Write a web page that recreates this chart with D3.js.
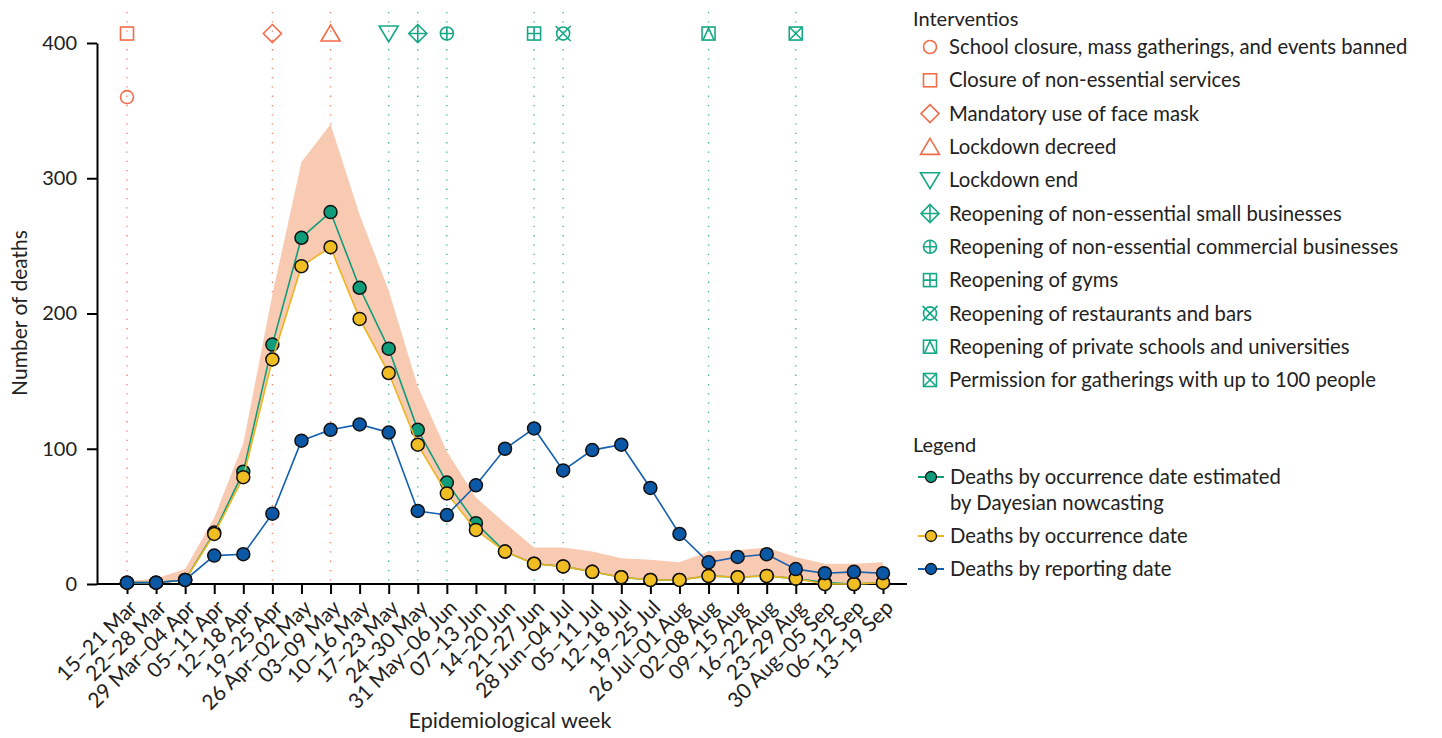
<!DOCTYPE html>
<html>
<head>
<meta charset="utf-8">
<script src="https://cdn.jsdelivr.net/npm/d3@7"></script>
<style>
  body { margin: 0; background: #fff; }
  svg { font-family: Lato, "Open Sans", sans-serif; }
</style>
</head>
<body>
<svg id="chart" width="1442" height="738"></svg>
<script>
const weeks = ['15–21 Mar', '22–28 Mar', '29 Mar–04 Apr', '05–11 Apr', '12–18 Apr', '19–25 Apr',
  '26 Apr–02 May', '03–09 May', '10–16 May', '17–23 May', '24–30 May', '31 May–06 Jun',
  '07–13 Jun', '14–20 Jun', '21–27 Jun', '28 Jun–04 Jul', '05–11 Jul', '12–18 Jul',
  '19–25 Jul', '26 Jul–01 Aug', '02–08 Aug', '09–15 Aug', '16–22 Aug', '23–29 Aug',
  '30 Aug–05 Sep', '06–12 Sep', '13–19 Sep'];

const nowcast = [1, 1, 3, 38, 83, 177, 256, 275, 219, 174, 114, 75, 45, 24, 15, 13, 9, 5, 3, 3, 6, 5, 6, 4, 1, 0, 1];
const occurrence = [1, 1, 3, 37, 79, 166, 235, 249, 196, 156, 103, 67, 40, 24, 15, 13, 9, 5, 3, 3, 6, 5, 6, 4, 0, 0, 1];
const reporting = [1, 1, 3, 21, 22, 52, 106, 114, 118, 112, 54, 51, 73, 100, 115, 84, 99, 103, 71, 37, 16, 20, 22, 11, 8, 9, 8];
const upper = [2, 4, 11, 49, 104, 214, 312, 340, 273, 217, 146, 98, 64, 45, 27, 27, 24, 19, 18, 16, 24, 25, 27, 20, 15, 15, 16];

const yTicks = [0, 100, 200, 300, 400];

const interventions = ['School closure, mass gatherings, and events banned', 'Closure of non-essential services',
  'Mandatory use of face mask', 'Lockdown decreed', 'Lockdown end', 'Reopening of non-essential small businesses',
  'Reopening of non-essential commercial businesses', 'Reopening of gyms', 'Reopening of restaurants and bars',
  'Reopening of private schools and universities', 'Permission for gatherings with up to 100 people'];
const interventionWeek = ['15–21 Mar', '15–21 Mar', '19–25 Apr', '03–09 May', '17–23 May', '24–30 May',
  '31 May–06 Jun', '21–27 Jun', '28 Jun–04 Jul', '02–08 Aug', '23–29 Aug'];
const interventionY = [360, 407, 407, 407, 407, 407, 407, 407, 407, 407, 407];
const interventionShape = ['circle', 'square', 'diamond', 'triUp', 'triDown', 'diamondPlus',
  'circlePlus', 'squarePlus', 'circleCross', 'squareTri', 'squareCross'];
const interventionPhase = ['closing', 'closing', 'closing', 'closing', 'opening', 'opening',
  'opening', 'opening', 'opening', 'opening', 'opening'];

const seriesNames = ['Deaths by occurrence date estimated|by Dayesian nowcasting', 'Deaths by occurrence date', 'Deaths by reporting date'];

const orange = '#f26c4a';
const green = '#16a886';
const phaseColor = { closing: orange, opening: green };
const lineColors = ['#0e9d7b', '#eeb41e', '#1460ae'];
const dotColors = ['#0f9c7a', '#f0bd22', '#0b58a6'];

const svg = d3.select('#chart');

const x = d3.scalePoint().domain(weeks).range([127, 883]);
const y = d3.scaleLinear().domain([0, 400]).range([584, 43]);

// symbol drawing, roughly the R pch shapes
function drawSymbol(g, shape, color) {
  const s = 6.5;
  const st = { fill: 'none', stroke: color, 'stroke-width': 1.6 };
  const add = (tag, attrs) => {
    const el = g.append(tag);
    Object.entries(Object.assign({}, st, attrs)).forEach(([k, v]) => el.attr(k, v));
  };
  const plus = (r) => add('path', { d: `M0,${-r}V${r}M${-r},0H${r}` });
  if (shape === 'circle') add('circle', { r: s });
  if (shape === 'square') add('rect', { x: -s, y: -s, width: 2 * s, height: 2 * s });
  if (shape === 'diamond') add('path', { d: 'M0,-9L9,0L0,9L-9,0Z' });
  if (shape === 'triUp') add('path', { d: 'M0,-8.5L9.5,7.5L-9.5,7.5Z' });
  if (shape === 'triDown') add('path', { d: 'M-9.5,-7.5L9.5,-7.5L0,8.5Z' });
  if (shape === 'diamondPlus') { add('path', { d: 'M0,-9L9,0L0,9L-9,0Z' }); plus(9); }
  if (shape === 'circlePlus') { add('circle', { r: s }); plus(s); }
  if (shape === 'squarePlus') { add('rect', { x: -s, y: -s, width: 2 * s, height: 2 * s }); plus(s); }
  if (shape === 'circleCross') { add('circle', { r: s }); add('path', { d: 'M-7.5,-7.5L7.5,7.5M-7.5,7.5L7.5,-7.5' }); }
  if (shape === 'squareTri') { add('rect', { x: -s, y: -s, width: 2 * s, height: 2 * s }); add('path', { d: `M${-s + 1},${s}L0,${-s + 1}L${s - 1},${s}` }); }
  if (shape === 'squareCross') { add('rect', { x: -s, y: -s, width: 2 * s, height: 2 * s }); add('path', { d: `M${-s},${-s}L${s},${s}M${-s},${s}L${s},${-s}` }); }
}

// intervention dotted lines
svg.append('g')
  .selectAll('line')
  .data(interventionWeek.filter((w, i) => interventionWeek.indexOf(w) === i))
  .enter()
  .append('line')
  .attr('x1', (d) => x(d))
  .attr('x2', (d) => x(d))
  .attr('y1', y(423))
  .attr('y2', y(0))
  .attr('stroke', (d) => phaseColor[interventionPhase[interventionWeek.indexOf(d)]])
  .attr('stroke-width', 1.3)
  .attr('stroke-dasharray', '1.3,8')
  .attr('opacity', 0.85);

// ribbon
const area = d3.area()
  .x((d, i) => x(weeks[i]))
  .y0((d, i) => y(occurrence[i]))
  .y1((d) => y(d));
svg.append('path')
  .datum(upper)
  .attr('d', area)
  .attr('fill', '#f9cab2');

// axes
const yAxis = svg.append('g')
  .attr('transform', 'translate(97,0)')
  .call(d3.axisLeft(y).tickValues(yTicks).tickSize(10).tickSizeOuter(0).tickPadding(10));
yAxis.selectAll('line, path').attr('stroke', '#000').attr('stroke-width', 2);
yAxis.selectAll('text').attr('font-size', 20).attr('fill', '#222').attr('font-family', 'Lato');

const xAxis = svg.append('g')
  .attr('transform', 'translate(0,584)')
  .call(d3.axisBottom(x).tickSize(10).tickSizeOuter(0));
xAxis.select('.domain').remove();
xAxis.append('line')
  .attr('x1', 97).attr('x2', x(weeks[weeks.length - 1]) + 24)
  .attr('stroke', '#000').attr('stroke-width', 2);
xAxis.selectAll('.tick line').attr('stroke', '#000').attr('stroke-width', 2);
xAxis.selectAll('.tick text')
  .attr('font-size', 21)
  .attr('fill', '#222')
  .attr('font-family', 'Lato')
  .attr('text-anchor', 'end')
  .attr('y', 0)
  .attr('dy', 0)
  .attr('transform', 'translate(11,25) rotate(-45)');

// series lines and points
const seriesData = [nowcast, occurrence, reporting];
seriesData.forEach((vals, si) => {
  const line = d3.line().x((d, i) => x(weeks[i])).y((d) => y(d));
  svg.append('path')
    .datum(vals)
    .attr('d', line)
    .attr('fill', 'none')
    .attr('stroke', lineColors[si])
    .attr('stroke-width', 1.6);
  svg.append('g')
    .selectAll('circle')
    .data(vals)
    .enter()
    .append('circle')
    .attr('cx', (d, i) => x(weeks[i]))
    .attr('cy', (d) => y(d))
    .attr('r', 6.5)
    .attr('fill', dotColors[si])
    .attr('stroke', '#111')
    .attr('stroke-width', 1.5);
});

// intervention markers
interventions.forEach((name, i) => {
  const g = svg.append('g')
    .attr('transform', `translate(${x(interventionWeek[i])},${y(interventionY[i])})`);
  drawSymbol(g, interventionShape[i], phaseColor[interventionPhase[i]]);
});

// axis titles
svg.append('text')
  .attr('x', 510).attr('y', 728)
  .attr('text-anchor', 'middle')
  .attr('font-size', 21.5).attr('fill', '#222')
  .text('Epidemiological week');
svg.append('text')
  .attr('transform', 'translate(27,313) rotate(-90)')
  .attr('text-anchor', 'middle')
  .attr('font-size', 21).attr('fill', '#222')
  .text('Number of deaths');

// interventions legend
const leg = svg.append('g');
leg.append('text')
  .attr('x', 913).attr('y', 26)
  .attr('font-size', 20).attr('fill', '#222')
  .text('Interventios');
interventions.forEach((name, i) => {
  const cy = 47 + i * 33.3;
  const g = leg.append('g').attr('transform', `translate(930,${cy})`);
  drawSymbol(g, interventionShape[i], phaseColor[interventionPhase[i]]);
  leg.append('text')
    .attr('x', 949).attr('y', cy)
    .attr('dy', '0.35em')
    .attr('font-size', 20.3).attr('fill', '#222')
    .text(name);
});

// series legend
leg.append('text')
  .attr('x', 913).attr('y', 452)
  .attr('font-size', 20).attr('fill', '#222')
  .text('Legend');
const legY = [477, 536, 569];
seriesNames.forEach((name, i) => {
  leg.append('line')
    .attr('x1', 918).attr('x2', 944)
    .attr('y1', legY[i]).attr('y2', legY[i])
    .attr('stroke', lineColors[i]).attr('stroke-width', 2);
  leg.append('circle')
    .attr('cx', 931).attr('cy', legY[i]).attr('r', 5.5)
    .attr('fill', dotColors[i]).attr('stroke', '#111').attr('stroke-width', 1.3);
  name.split('|').forEach((part, k) => {
    leg.append('text')
      .attr('x', 950).attr('y', legY[i] + k * 26)
      .attr('dy', '0.35em')
      .attr('font-size', 20.3).attr('fill', '#222')
      .text(part);
  });
});
</script>
</body>
</html>
